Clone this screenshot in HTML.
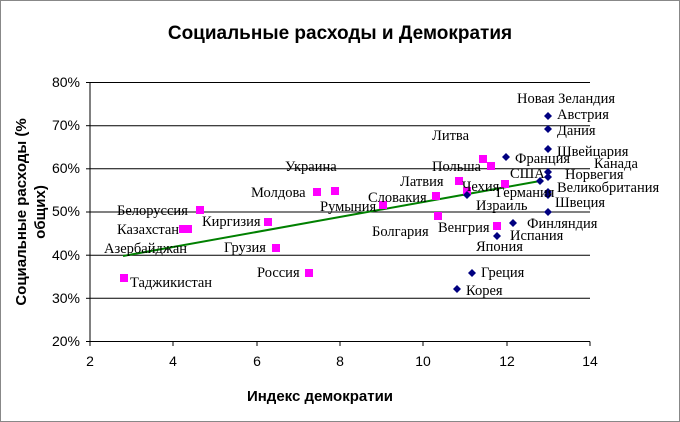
<!DOCTYPE html>
<html><head><meta charset="utf-8"><style>
body{margin:0;background:#fff}
svg{display:block}
.l{font-family:"Liberation Serif",serif;font-size:14.5px;fill:#000}
.t{font-family:"Liberation Sans",sans-serif;fill:#000}
</style></head><body>
<svg width="680" height="422" viewBox="0 0 680 422">
<rect x="0.5" y="0.5" width="679" height="421" fill="#fff" stroke="#888"/>
<text class="t" x="340" y="39" font-size="19" font-weight="bold" text-anchor="middle">Социальные расходы и Демократия</text>
<g stroke="#000" stroke-width="1">
<line x1="90" y1="82.5" x2="590" y2="82.5"/>
<line x1="90" y1="125.7" x2="590" y2="125.7"/>
<line x1="90" y1="168.8" x2="590" y2="168.8"/>
<line x1="90" y1="212" x2="590" y2="212"/>
<line x1="90" y1="255.2" x2="590" y2="255.2"/>
<line x1="90" y1="298.3" x2="590" y2="298.3"/>
<line x1="90" y1="341.5" x2="590" y2="341.5"/>
<line x1="90" y1="82.5" x2="90" y2="341.5"/>
<line x1="86" y1="82.5" x2="90" y2="82.5"/><line x1="86" y1="125.7" x2="90" y2="125.7"/><line x1="86" y1="168.8" x2="90" y2="168.8"/><line x1="86" y1="212" x2="90" y2="212"/><line x1="86" y1="255.2" x2="90" y2="255.2"/><line x1="86" y1="298.3" x2="90" y2="298.3"/><line x1="86" y1="341.5" x2="90" y2="341.5"/>
<line x1="90" y1="341.5" x2="90" y2="346"/><line x1="173" y1="341.5" x2="173" y2="346"/><line x1="257" y1="341.5" x2="257" y2="346"/><line x1="340" y1="341.5" x2="340" y2="346"/><line x1="423" y1="341.5" x2="423" y2="346"/><line x1="507" y1="341.5" x2="507" y2="346"/><line x1="590" y1="341.5" x2="590" y2="346"/>
</g>
<g class="t" font-size="14" text-anchor="end">
<text x="80" y="87">80%</text><text x="80" y="130">70%</text><text x="80" y="173">60%</text><text x="80" y="216">50%</text><text x="80" y="260">40%</text><text x="80" y="303">30%</text><text x="80" y="346">20%</text>
</g>
<g class="t" font-size="14" text-anchor="middle">
<text x="90" y="366">2</text><text x="173" y="366">4</text><text x="257" y="366">6</text><text x="340" y="366">8</text><text x="423" y="366">10</text><text x="507" y="366">12</text><text x="590" y="366">14</text>
</g>
<text class="t" x="320" y="401" font-size="15" font-weight="bold" text-anchor="middle">Индекс демократии</text>
<text class="t" transform="translate(26,212) rotate(-90)" font-size="15" font-weight="bold" text-anchor="middle">Социальные расходы (%</text>
<text class="t" transform="translate(45,212) rotate(-90)" font-size="15" font-weight="bold" text-anchor="middle">общих)</text>
<line x1="123" y1="256" x2="540" y2="181" stroke="#008000" stroke-width="2"/>
<g fill="#ff00ff">
<rect x="479" y="155" width="8" height="8"/><rect x="487" y="162" width="8" height="8"/><rect x="455" y="177" width="8" height="8"/><rect x="501" y="180" width="8" height="8"/><rect x="463" y="187" width="8" height="8"/><rect x="432" y="192" width="8" height="8"/><rect x="379" y="201" width="8" height="8"/><rect x="434" y="212" width="8" height="8"/><rect x="493" y="222" width="8" height="8"/>
<rect x="313" y="188" width="8" height="8"/><rect x="331" y="187" width="8" height="8"/><rect x="196" y="206" width="8" height="8"/><rect x="179" y="225" width="8" height="8"/><rect x="184" y="225" width="8" height="8"/><rect x="264" y="218" width="8" height="8"/><rect x="272" y="244" width="8" height="8"/><rect x="305" y="269" width="8" height="8"/><rect x="120" y="274" width="8" height="8"/>
</g>
<g fill="#000080">
<path d="M548 112l4 4-4 4-4-4z"/><path d="M548 125l4 4-4 4-4-4z"/><path d="M548 145l4 4-4 4-4-4z"/><path d="M506 153l4 4-4 4-4-4z"/><path d="M548 168l4 4-4 4-4-4z"/><path d="M548 173l4 4-4 4-4-4z"/><path d="M540 177l4 4-4 4-4-4z"/><path d="M548 188l4 4-4 4-4-4z"/><path d="M548 191l4 4-4 4-4-4z"/><path d="M467 191l4 4-4 4-4-4z"/><path d="M548 208l4 4-4 4-4-4z"/><path d="M513 219l4 4-4 4-4-4z"/><path d="M497 232l4 4-4 4-4-4z"/><path d="M472 269l4 4-4 4-4-4z"/><path d="M457 285l4 4-4 4-4-4z"/>
</g>
<g class="l">
<text x="517" y="103">Новая Зеландия</text><text x="557" y="119">Австрия</text><text x="557" y="135">Дания</text><text x="432" y="140">Литва</text><text x="557" y="156">Швейцария</text><text x="515" y="163">Франция</text><text x="594" y="168">Канада</text><text x="285" y="171">Украина</text><text x="432" y="171">Польша</text><text x="510" y="178">США</text><text x="565" y="179">Норвегия</text><text x="400" y="186">Латвия</text><text x="462" y="191">Чехия</text><text x="251" y="197">Молдова</text><text x="496" y="197">Германия</text><text x="557" y="192">Великобритания</text><text x="368" y="202">Словакия</text><text x="320" y="211">Румыния</text><text x="476" y="210">Израиль</text><text x="117" y="215">Белоруссия</text><text x="555" y="207">Швеция</text><text x="202" y="226">Киргизия</text><text x="527" y="228">Финляндия</text><text x="117" y="234">Казахстан</text><text x="372" y="236">Болгария</text><text x="438" y="232">Венгрия</text><text x="510" y="240">Испания</text><text x="104" y="253">Азербайджан</text><text x="224" y="252">Грузия</text><text x="476" y="251">Япония</text><text x="257" y="277">Россия</text><text x="481" y="277">Греция</text><text x="130" y="287">Таджикистан</text><text x="466" y="295">Корея</text>
</g>
</svg>
</body></html>
